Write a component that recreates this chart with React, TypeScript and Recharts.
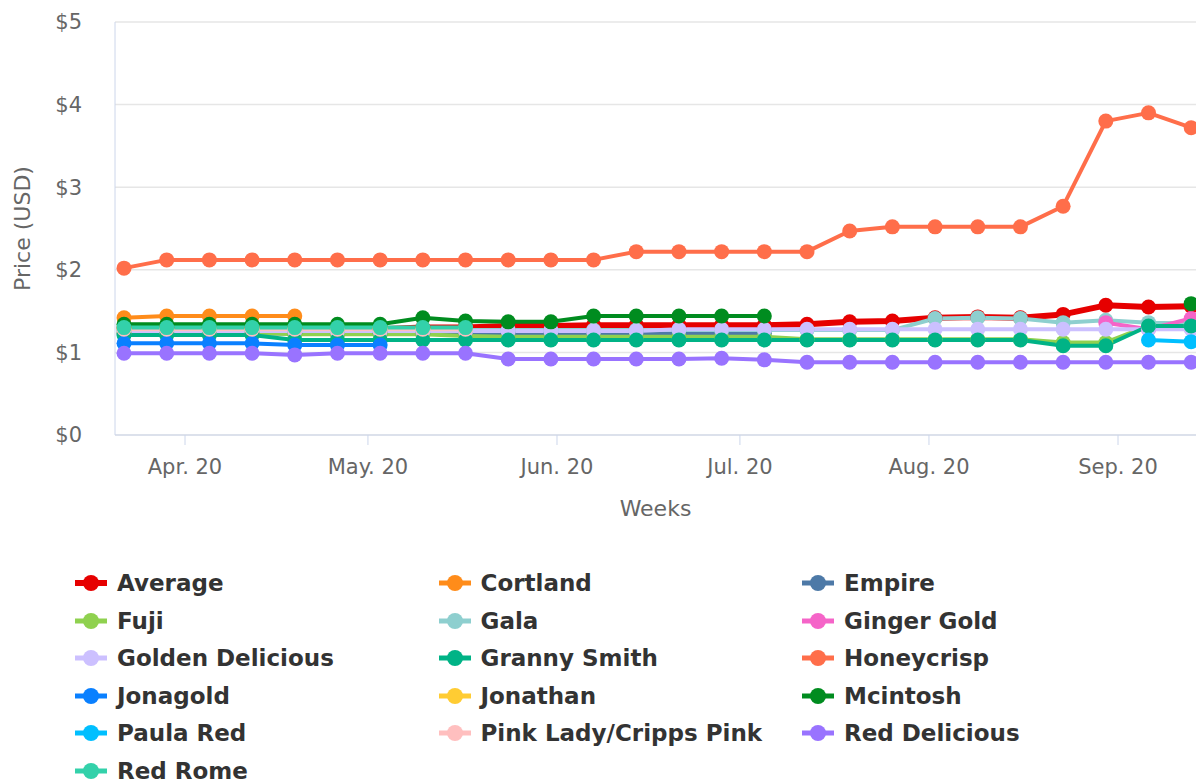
import React from "react";
import { LineChart, Line, XAxis, YAxis, CartesianGrid } from "recharts";

const weeks = [
  "2020-03-22", "2020-03-29", "2020-04-05", "2020-04-12", "2020-04-19", "2020-04-26",
  "2020-05-03", "2020-05-10", "2020-05-17", "2020-05-24", "2020-05-31", "2020-06-07",
  "2020-06-14", "2020-06-21", "2020-06-28", "2020-07-05", "2020-07-12", "2020-07-19",
  "2020-07-26", "2020-08-02", "2020-08-09", "2020-08-16", "2020-08-23", "2020-08-30",
  "2020-09-06", "2020-09-13",
];

const monthTicks = ["2020-04-01", "2020-05-01", "2020-06-01", "2020-07-01", "2020-08-01", "2020-09-01"];
const monthLabels = ["Apr. 20", "May. 20", "Jun. 20", "Jul. 20", "Aug. 20", "Sep. 20"];
const priceTicks = [0, 1, 2, 3, 4, 5];

const _ = null;

const average = [1.29, 1.3, 1.3, 1.29, 1.29, 1.28, 1.28, 1.3, 1.3, 1.32, 1.32, 1.33, 1.33, 1.33, 1.33, 1.33, 1.34, 1.37, 1.38, 1.42, 1.43, 1.42, 1.46, 1.57, 1.55, 1.56];
const cortland = [1.42, 1.44, 1.44, 1.44, 1.44, _, _, _, _, _, _, _, _, _, _, _, _, _, _, _, _, _, _, _, _, _];
const empire = [1.23, 1.23, 1.23, 1.23, 1.23, 1.23, 1.23, 1.23, 1.23, 1.23, 1.23, 1.23, 1.23, 1.23, 1.23, 1.23, _, _, _, _, _, _, _, _, _, _];
const fuji = [1.24, 1.24, 1.24, 1.24, 1.22, 1.22, 1.22, 1.22, 1.2, 1.19, 1.19, 1.19, 1.19, 1.19, 1.19, 1.19, 1.16, 1.16, 1.16, 1.16, 1.16, 1.16, 1.12, 1.12, 1.32, 1.32];
const gala = [1.27, 1.27, 1.27, 1.27, 1.27, 1.27, 1.27, 1.27, 1.27, 1.27, 1.27, 1.27, 1.27, 1.27, 1.27, 1.27, 1.27, 1.27, 1.27, 1.41, 1.42, 1.41, 1.36, 1.39, 1.36, 1.35];
const gingerGold = [_, _, _, _, _, _, _, _, _, _, _, _, _, _, _, _, _, _, _, _, _, _, _, 1.36, 1.28, 1.41];
const goldenDelicious = [1.26, 1.26, 1.26, 1.26, 1.26, 1.26, 1.26, 1.26, 1.26, 1.26, 1.26, 1.26, 1.26, 1.28, 1.28, 1.28, 1.28, 1.28, 1.28, 1.28, 1.28, 1.28, 1.28, 1.28, 1.28, 1.28];
const grannySmith = [1.21, 1.21, 1.21, 1.21, 1.15, 1.15, 1.15, 1.15, 1.15, 1.15, 1.15, 1.15, 1.15, 1.15, 1.15, 1.15, 1.15, 1.15, 1.15, 1.15, 1.15, 1.15, 1.08, 1.08, 1.32, 1.32];
const honeycrisp = [2.02, 2.12, 2.12, 2.12, 2.12, 2.12, 2.12, 2.12, 2.12, 2.12, 2.12, 2.12, 2.22, 2.22, 2.22, 2.22, 2.22, 2.47, 2.52, 2.52, 2.52, 2.52, 2.77, 3.8, 3.9, 3.72];
const jonagold = [1.11, 1.11, 1.11, 1.11, 1.09, 1.09, 1.09, _, _, _, _, _, _, _, _, _, _, _, _, _, _, _, _, _, _, _];
const jonathan = [1.29, 1.29, 1.29, 1.29, 1.29, 1.29, 1.29, 1.29, 1.29, _, _, _, _, _, _, _, _, _, _, _, _, _, _, _, _, _];
const mcintosh = [1.34, 1.34, 1.34, 1.34, 1.34, 1.34, 1.34, 1.42, 1.38, 1.37, 1.37, 1.44, 1.44, 1.44, 1.44, 1.44, _, _, _, _, _, _, _, _, _, 1.59];
const paulaRed = [_, _, _, _, _, _, _, _, _, _, _, _, _, _, _, _, _, _, _, _, _, _, _, _, 1.15, 1.13];
const pinkLady = [1.28, 1.28, 1.28, 1.28, 1.28, 1.28, 1.28, 1.28, 1.28, _, _, _, _, _, _, _, _, _, _, _, _, _, _, _, _, _];
const redDelicious = [0.99, 0.99, 0.99, 0.99, 0.97, 0.99, 0.99, 0.99, 0.99, 0.92, 0.92, 0.92, 0.92, 0.92, 0.93, 0.91, 0.88, 0.88, 0.88, 0.88, 0.88, 0.88, 0.88, 0.88, 0.88, 0.88];
const redRome = [1.3, 1.3, 1.3, 1.3, 1.3, 1.3, 1.3, 1.3, 1.3, _, _, _, _, _, _, _, _, _, _, _, _, _, _, _, _, _];

const series = [
  { key: "average", name: "Average", color: "#e60000", values: average, width: 6 },
  { key: "cortland", name: "Cortland", color: "#ff8c1a", values: cortland, width: 4 },
  { key: "empire", name: "Empire", color: "#4d79a7", values: empire, width: 4 },
  { key: "fuji", name: "Fuji", color: "#8fd14f", values: fuji, width: 4 },
  { key: "gala", name: "Gala", color: "#8ecfcf", values: gala, width: 4 },
  { key: "gingerGold", name: "Ginger Gold", color: "#f564c8", values: gingerGold, width: 4 },
  { key: "goldenDelicious", name: "Golden Delicious", color: "#ccc0ff", values: goldenDelicious, width: 4 },
  { key: "grannySmith", name: "Granny Smith", color: "#00b386", values: grannySmith, width: 4 },
  { key: "honeycrisp", name: "Honeycrisp", color: "#ff6e4a", values: honeycrisp, width: 4 },
  { key: "jonagold", name: "Jonagold", color: "#0a80ff", values: jonagold, width: 4 },
  { key: "jonathan", name: "Jonathan", color: "#ffcc33", values: jonathan, width: 4 },
  { key: "mcintosh", name: "Mcintosh", color: "#008c1f", values: mcintosh, width: 4 },
  { key: "paulaRed", name: "Paula Red", color: "#00bfff", values: paulaRed, width: 4 },
  { key: "pinkLady", name: "Pink Lady/Cripps Pink", color: "#ffbfbf", values: pinkLady, width: 4 },
  { key: "redDelicious", name: "Red Delicious", color: "#9973ff", values: redDelicious, width: 4 },
  { key: "redRome", name: "Red Rome", color: "#33d1aa", values: redRome, width: 4 },
];

const DAY = 86400000;
const toTime = (d: string) => Date.parse(d + "T00:00:00Z");

const data = weeks.map((w, i) => {
  const row: Record<string, number | null> = { t: toTime(w) };
  series.forEach((s) => {
    row[s.key] = s.values[i];
  });
  return row;
});

const xStart = toTime("2020-03-20") + 0.52 * DAY;
const xEnd = toTime("2020-09-13") + 0.79 * DAY;
const tickTimes = monthTicks.map(toTime);

const FONT = "'DejaVu Sans', sans-serif";

function LegendItem({ name, color, big }: { name: string; color: string; big: boolean }) {
  return (
    <div style={{ display: "flex", alignItems: "center", height: 30 }}>
      <svg width={34} height={20} style={{ marginRight: 9 }}>
        <line x1={1} y1={10} x2={33} y2={10} stroke={color} strokeWidth={big ? 6 : 5} />
        <circle cx={17} cy={10} r={8} fill={color} />
      </svg>
      <span style={{ fontWeight: "bold", fontSize: 23, color: "#333333", whiteSpace: "nowrap" }}>{name}</span>
    </div>
  );
}

export default function App() {
  return (
    <div style={{ position: "relative", width: 1196, height: 780, fontFamily: FONT, overflow: "hidden" }}>
      <style>{`body{margin:0}`}</style>
      <LineChart width={1196} height={540} data={data} margin={{ top: 22, right: 0, bottom: 0, left: 0 }}>
        <CartesianGrid vertical={false} stroke="#e6e6e6" strokeWidth={1.5} />
        <XAxis
          dataKey="t"
          type="number"
          scale="time"
          domain={[xStart, xEnd]}
          allowDataOverflow
          ticks={tickTimes}
          tickFormatter={(v: number) => monthLabels[tickTimes.indexOf(v)] ?? ""}
          height={105}
          tickSize={10}
          tickMargin={14}
          stroke="#ccd6eb"
          tick={{ fill: "#666666", fontSize: 21, fontFamily: FONT }}
          label={{ value: "Weeks", position: "insideBottom", offset: 24, fill: "#666666", fontSize: 22, fontFamily: FONT }}
        />
        <YAxis
          domain={[0, 5]}
          ticks={priceTicks}
          width={115}
          tickSize={0}
          tickMargin={33}
          tickLine={false}
          stroke="#ccd6eb"
          tickFormatter={(v: number) => `$${v}`}
          tick={{ fill: "#666666", fontSize: 21, fontFamily: FONT }}
          label={{
            value: "Price (USD)",
            angle: -90,
            position: "insideLeft",
            offset: 22,
            fill: "#666666",
            fontSize: 22,
            fontFamily: FONT,
            style: { textAnchor: "middle" },
          }}
        />
        {series.map((s) => (
          <Line
            key={s.key}
            dataKey={s.key}
            name={s.name}
            stroke={s.color}
            strokeWidth={s.width}
            strokeLinejoin="round"
            dot={{ r: 7.5, fill: s.color, stroke: s.color, strokeWidth: 0 }}
            activeDot={false}
            isAnimationActive={false}
            connectNulls={false}
          />
        ))}
      </LineChart>
      {series.map((s, i) => (
        <div
          key={s.key}
          style={{ position: "absolute", left: 74 + (i % 3) * 363.5, top: 568 + Math.floor(i / 3) * 37.5 }}
        >
          <LegendItem name={s.name} color={s.color} big={s.key === "average"} />
        </div>
      ))}
    </div>
  );
}
